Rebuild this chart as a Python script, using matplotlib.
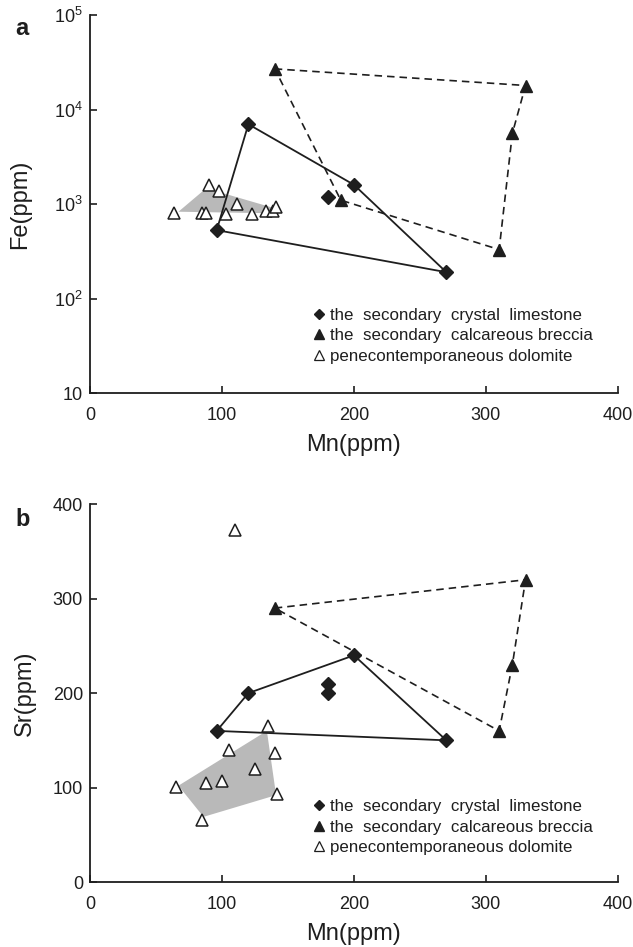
"""Mn-Fe and Mn-Sr cross plots for the secondary carbonates and dolomite."""

import matplotlib

matplotlib.use("Agg")
import matplotlib.pyplot as plt
from matplotlib.lines import Line2D
from matplotlib.ticker import FixedLocator, FixedFormatter, NullLocator

plt.rcParams["font.family"] = ["Liberation Sans", "DejaVu Sans"]
plt.rcParams["mathtext.fontset"] = "custom"
plt.rcParams["mathtext.rm"] = "Liberation Sans"

INK = "#1e1e1e"
SHADE = "#b9b9b9"

# panel a: Mn vs Fe (ppm)
lime_mn_a = [120, 200, 270, 96, 120]          # closed outline
lime_fe_a = [7000, 1600, 190, 530, 7000]
lime_extra_mn_a = [180]
lime_extra_fe_a = [1200]
brec_mn_a = [140, 330, 320, 310, 190, 140]    # closed outline
brec_fe_a = [27000, 18000, 5600, 330, 1100, 27000]
dolo_mn_a = [64, 85, 88, 90, 98, 103, 111, 123, 133, 139, 141]
dolo_fe_a = [810, 810, 810, 1610, 1380, 780, 1000, 780, 850, 850, 930]
shade_mn_a = [67, 88, 138, 136]
shade_fe_a = [830, 1470, 920, 800]

# panel b: Mn vs Sr (ppm)
lime_mn_b = [96, 120, 200, 270, 96]
lime_sr_b = [160, 200, 240, 150, 160]
lime_extra_mn_b = [180, 180]
lime_extra_sr_b = [210, 200]
brec_mn_b = [140, 330, 320, 310, 140]
brec_sr_b = [290, 320, 230, 160, 290]
dolo_mn_b = [65, 85, 88, 100, 105, 110, 125, 135, 140, 142]
dolo_sr_b = [101, 66, 105, 107, 140, 373, 120, 165, 137, 93]
shade_mn_b = [67, 134, 141, 86]
shade_sr_b = [102, 160, 92, 69]

mn_ticks = [0, 100, 200, 300, 400]
fe_ticks = [10, 100, 1000, 10000, 100000]
fe_labels = ["10", r"$\mathregular{10^{2}}$", r"$\mathregular{10^{3}}$",
             r"$\mathregular{10^{4}}$", r"$\mathregular{10^{5}}$"]
sr_ticks = [0, 100, 200, 300, 400]

legend_labels = ["the  secondary  crystal  limestone",
                 "the  secondary  calcareous breccia",
                 "penecontemporaneous dolomite"]


def style_axes(ax):
    for side in ("top", "right"):
        ax.spines[side].set_visible(False)
    for side in ("left", "bottom"):
        ax.spines[side].set_linewidth(1.3)
        ax.spines[side].set_color(INK)
    ax.tick_params(direction="in", length=5, width=1.2, colors=INK,
                   labelsize=13)
    ax.tick_params(axis="x", pad=10)
    ax.tick_params(axis="y", pad=5)
    ax.set_xlim(0, 400)
    ax.xaxis.set_major_locator(FixedLocator(mn_ticks))
    ax.set_xlabel("Mn(ppm)", fontsize=17, color=INK, labelpad=7)


def draw_panel(ax, lime_x, lime_y, lime_ex_x, lime_ex_y, brec_x, brec_y,
               dolo_x, dolo_y, sh_x, sh_y):
    ax.fill(sh_x, sh_y, color=SHADE, lw=0, zorder=1)
    ax.plot(brec_x, brec_y, ls=(0, (4.5, 3)), lw=1.2, color=INK, zorder=2)
    ax.plot(brec_x[:-1], brec_y[:-1], ls="none", marker="^", ms=9,
            color=INK, zorder=4)
    ax.plot(lime_x, lime_y, ls="-", lw=1.3, color=INK, zorder=2)
    ax.plot(lime_x[:-1] + lime_ex_x, lime_y[:-1] + lime_ex_y, ls="none",
            marker="D", ms=7, color=INK, zorder=4)
    ax.plot(dolo_x, dolo_y, ls="none", marker="^", ms=9, mfc="white",
            mec=INK, mew=1.1, zorder=3)


def add_legend(ax, y_anchor):
    handles = [
        Line2D([], [], ls="none", marker="D", ms=5.5, color=INK),
        Line2D([], [], ls="none", marker="^", ms=7.5, color=INK),
        Line2D([], [], ls="none", marker="^", ms=7.5, mfc="white", mec=INK,
               mew=0.9),
    ]
    leg = ax.legend(handles, legend_labels, loc="upper left",
                    bbox_to_anchor=(0.425, y_anchor), frameon=False,
                    fontsize=12.2, handlelength=0.55, handletextpad=0.4,
                    labelspacing=0.34, borderpad=0, borderaxespad=0)
    for text in leg.get_texts():
        text.set_color(INK)


fig = plt.figure(figsize=(6.33, 9.47), dpi=100)
ax_a = fig.add_axes([0.1422, 0.585, 0.834, 0.399])
ax_b = fig.add_axes([0.1422, 0.0686, 0.834, 0.399])

draw_panel(ax_a, lime_mn_a, lime_fe_a, lime_extra_mn_a, lime_extra_fe_a,
           brec_mn_a, brec_fe_a, dolo_mn_a, dolo_fe_a, shade_mn_a, shade_fe_a)
style_axes(ax_a)
ax_a.set_yscale("log")
ax_a.set_ylim(10, 100000)
ax_a.yaxis.set_major_locator(FixedLocator(fe_ticks))
ax_a.yaxis.set_major_formatter(FixedFormatter(fe_labels))
ax_a.yaxis.set_minor_locator(NullLocator())
ax_a.set_ylabel("Fe(ppm)", fontsize=17, color=INK, labelpad=17)
add_legend(ax_a, 0.226)

draw_panel(ax_b, lime_mn_b, lime_sr_b, lime_extra_mn_b, lime_extra_sr_b,
           brec_mn_b, brec_sr_b, dolo_mn_b, dolo_sr_b, shade_mn_b, shade_sr_b)
style_axes(ax_b)
ax_b.set_ylim(0, 400)
ax_b.yaxis.set_major_locator(FixedLocator(sr_ticks))
ax_b.set_ylabel("Sr(ppm)", fontsize=17, color=INK, labelpad=12)
add_legend(ax_b, 0.220)

fig.text(0.024, 0.970, "a", fontsize=17, fontweight="bold", color=INK,
         va="center")
fig.text(0.024, 0.451, "b", fontsize=17, fontweight="bold", color=INK,
         va="center")

fig.savefig("out.png", dpi=100)
